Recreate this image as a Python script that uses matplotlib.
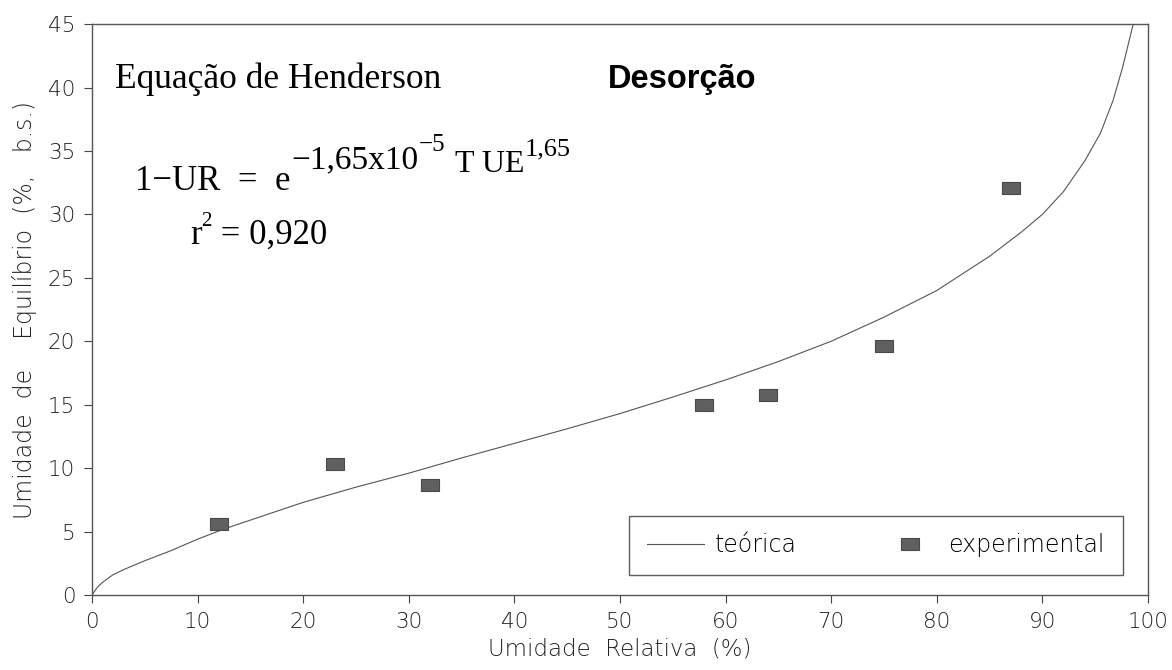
import matplotlib
matplotlib.use("Agg")
import matplotlib.pyplot as plt

# dados experimentais (UR %, UE % b.s.)
ur_exp = [12, 23, 32, 58, 64, 75, 87]
ue_exp = [5.6, 10.3, 8.7, 15.0, 15.8, 19.6, 32.1]

# curva teórica
ur_teo = [0, 0.5, 1, 2, 3, 5, 7.5, 10, 12.5, 15, 17.5, 20, 25, 30, 35, 40, 45,
          50, 55, 60, 65, 70, 75, 80, 85, 88, 90, 92, 94, 95.5, 96.7, 97.6, 98.6]
ue_teo = [0, 0.6, 1.0, 1.6, 2.0, 2.7, 3.5, 4.4, 5.2, 5.9, 6.6, 7.3, 8.5, 9.6,
          10.8, 11.95, 13.1, 14.3, 15.6, 16.95, 18.4, 20.0, 21.9, 24.0, 26.7,
          28.6, 30.0, 31.8, 34.2, 36.4, 39.0, 41.6, 45.0]

x_ticks = list(range(0, 101, 10))
y_ticks = list(range(0, 46, 5))

plt.rcParams["font.family"] = "DejaVu Sans"

fig = plt.figure(figsize=(11.72, 6.70), dpi=100)
ax = fig.add_axes([0.0785, 0.112, 0.901, 0.852])

ax.plot(ur_teo, ue_teo, color="#555555", lw=0.8, label="teórica")
box = [(-1, -0.7), (1, -0.7), (1, 0.7), (-1, 0.7), (-1, -0.7)]
ax.plot(ur_exp, ue_exp, ls="none", marker=box, ms=13, color="#606060",
        mec="#4a4a4a", mew=0.8, label="experimental")

ax.set_xlim(0, 100)
ax.set_ylim(0, 45)
ax.set_xticks(x_ticks)
ax.set_yticks(y_ticks)
ax.tick_params(direction="out", length=6, width=0.8, pad=6, labelsize=15.5,
               labelcolor="#222222", color="#444444")
for lab in ax.get_xticklabels() + ax.get_yticklabels():
    lab.set_fontweight("light")
for s in ax.spines.values():
    s.set_linewidth(1.0)
    s.set_color("#555555")

ax.set_xlabel("Umidade  Relativa  (%)", fontsize=16.5, fontweight="light",
              labelpad=4, color="#222222")
ax.set_ylabel("Umidade  de    Equilíbrio  (%,   b.s.)", fontsize=17,
              fontweight="light", labelpad=8, color="#222222")

serif = "Liberation Serif"
ax.text(2.18, 40.0, "Equação de Henderson", fontsize=25.5, family=serif,
        va="baseline", ha="left")
ax.text(48.9, 40.0, "Desorção", fontsize=23.5, family="Liberation Sans",
        fontweight="bold", va="baseline", ha="left")

eq_y = 31.9
r_y = 27.7


def chain(prev, s, size, dy, base_y, dx=0):
    return ax.annotate(s, xy=(1, base_y), xycoords=(prev, ax.transData),
                       xytext=(dx, dy), textcoords="offset points",
                       fontsize=size, family=serif, ha="left", va="baseline")


base = ax.text(4.07, eq_y, "1\u2212UR  =  e", fontsize=25, family=serif,
               va="baseline", ha="left")
p1 = chain(base, "\u22121,65x10", 24, 16, eq_y, dx=1)
p2 = chain(p1, "\u22125", 18, 28, eq_y)
p3 = chain(p2, "T UE", 23, 13, eq_y, dx=7)
p4 = chain(p3, "1,65", 19, 25, eq_y)

r_t = ax.text(9.28, r_y, "r", fontsize=25, family=serif, va="baseline",
              ha="left")
r2 = chain(r_t, "2", 15, 13, r_y)
chain(r2, " = 0,920", 25, 0, r_y)

leg = ax.legend(loc="lower right", bbox_to_anchor=(0.976, 0.035),
                borderaxespad=0, ncol=2, fontsize=17, frameon=True,
                fancybox=False, handlelength=2.4, columnspacing=3.6,
                borderpad=0.75, handletextpad=0.45)
leg.get_frame().set_edgecolor("#333333")
leg.get_frame().set_linewidth(1.0)
for t in leg.get_texts():
    t.set_fontweight("light")

fig.savefig("out.png", dpi=100)
